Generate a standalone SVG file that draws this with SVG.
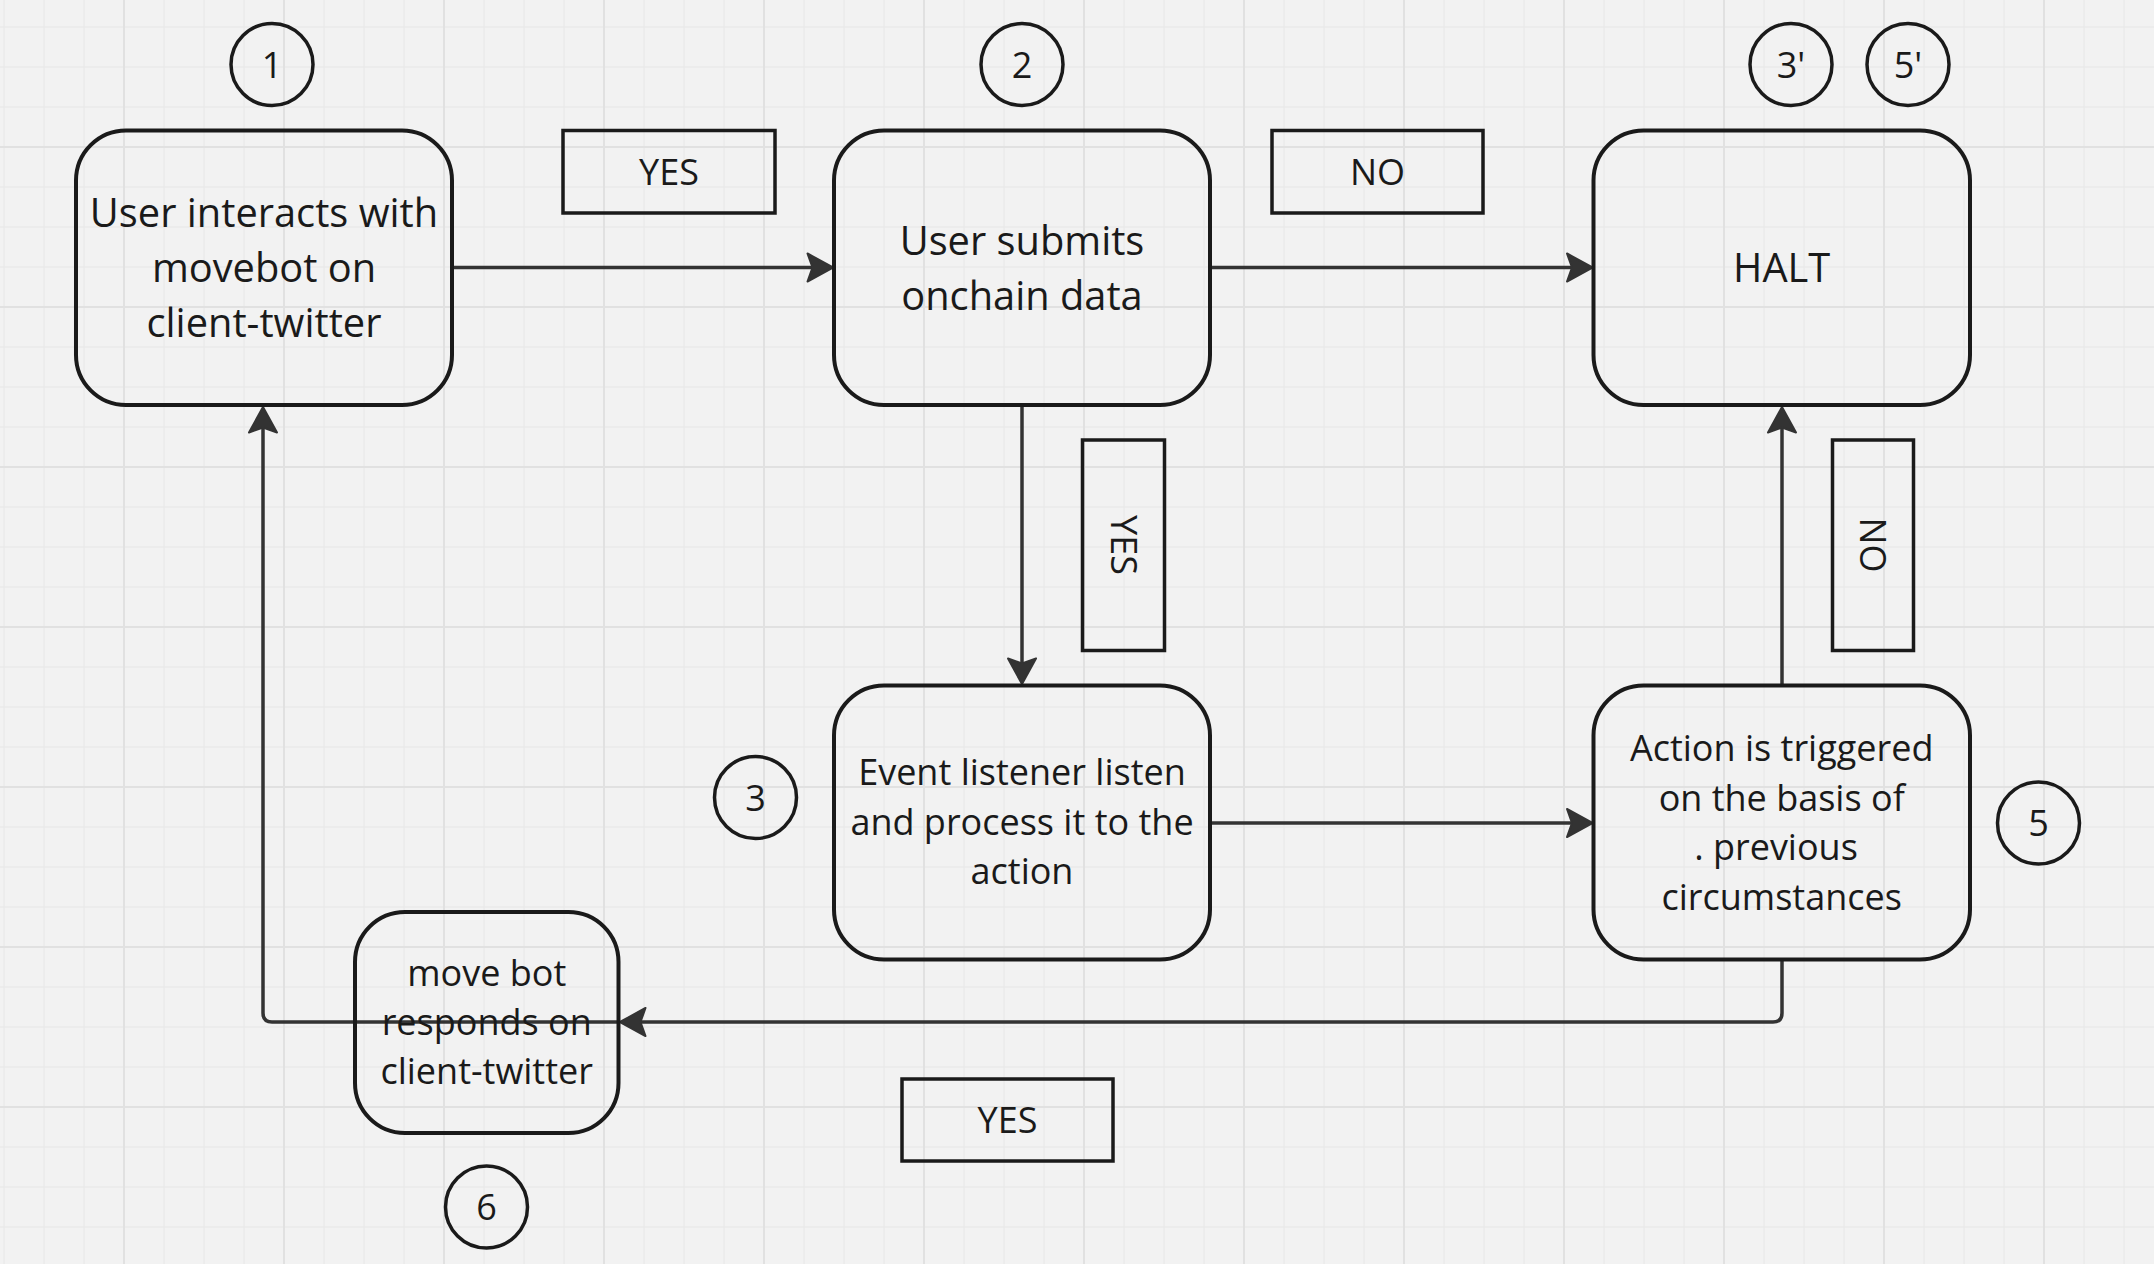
<svg xmlns="http://www.w3.org/2000/svg" width="2154" height="1264" viewBox="0 0 2154 1264">
<defs>
<pattern id="grid" x="-37" y="-14" width="160" height="160" patternUnits="userSpaceOnUse">
<path d="M41 0V160M81 0V160M121 0V160M0 41H160M0 81H160M0 121H160" stroke="#eaeaea" stroke-width="1.3" fill="none"/>
<path d="M1 0V160M0 1H160" stroke="#e1e1e1" stroke-width="2" fill="none"/>
</pattern>
<marker id="arr" viewBox="-16 -16 32 32" markerWidth="32" markerHeight="32" refX="0" refY="0" orient="auto" markerUnits="userSpaceOnUse">
<path d="M12 0L-13.5 -14L-8.5 0L-13.5 14Z" fill="#333" stroke="#333" stroke-width="2" stroke-linejoin="round"/>
</marker>
</defs>
<style>
.node{fill:none;stroke:#1a1a1a;stroke-width:4}
.lbl{fill:none;stroke:#1a1a1a;stroke-width:3.5}
.circ{fill:none;stroke:#1a1a1a;stroke-width:3.5}
.t{font-family:"Open Sans","Noto Sans",sans-serif;fill:#1a1a1a;text-anchor:middle}
.big{font-size:39.8px}
.sm{font-size:36px}
.con{fill:none;stroke:#333;stroke-width:3.5;marker-end:url(#arr)}
</style>
<rect width="2154" height="1264" fill="#f2f2f2"/>
<rect width="2154" height="1264" fill="url(#grid)"/>

<g id="connectors">
<path class="con" d="M452 267.5H821"/>
<path class="con" d="M1210 267.5H1580.5"/>
<path class="con" d="M1022 405V672"/>
<path class="con" d="M1210 823H1580.5"/>
<path class="con" d="M1782 685.5V419"/>
<path class="con" d="M1782 959V1013Q1782 1022 1773 1022H632"/>
<path class="con" d="M618 1022H272Q263 1022 263 1013V419"/>
</g>

<g id="node1">
<rect class="node" x="76" y="130.5" width="376" height="274.5" rx="50"/>
<text class="t big"><tspan x="264" y="226.7">User interacts with</tspan><tspan x="264" y="281.7">movebot on</tspan><tspan x="264" y="336.7">client-twitter</tspan></text>
</g>
<g id="node2">
<rect class="node" x="834" y="130.5" width="376" height="274.5" rx="50"/>
<text class="t big"><tspan x="1022" y="254.5">User submits</tspan><tspan x="1022" y="310">onchain data</tspan></text>
</g>
<g id="halt">
<rect class="node" x="1593.5" y="130.5" width="376.5" height="274.5" rx="50"/>
<text class="t big" x="1781.7" y="281.5">HALT</text>
</g>
<g id="node3">
<rect class="node" x="834" y="685.5" width="376" height="274" rx="50"/>
<text class="t sm"><tspan x="1022" y="785">Event listener listen</tspan><tspan x="1022" y="834.5">and process it to the</tspan><tspan x="1022" y="884">action</tspan></text>
</g>
<g id="node5">
<rect class="node" x="1593.5" y="685.5" width="376.5" height="274" rx="50"/>
<text class="t sm"><tspan x="1781.7" y="761">Action is triggered</tspan><tspan x="1781.7" y="810.5">on the basis of</tspan><tspan x="1776" y="860">. previous</tspan><tspan x="1781.7" y="909.5">circumstances</tspan></text>
</g>
<g id="node6">
<rect class="node" x="355" y="912" width="263.5" height="221" rx="50"/>
<text class="t sm"><tspan x="486.7" y="986">move bot</tspan><tspan x="486.7" y="1035">responds on</tspan><tspan x="486.7" y="1084">client-twitter</tspan></text>
</g>

<g id="label-yes-top">
<rect class="lbl" x="563" y="130.5" width="212" height="82.5"/>
<text class="t sm" x="669" y="184.5">YES</text>
</g>
<g id="label-no-top">
<rect class="lbl" x="1272" y="130.5" width="211" height="82.5"/>
<text class="t sm" x="1377.5" y="184.5">NO</text>
</g>
<g id="label-yes-vert">
<rect class="lbl" x="1082.5" y="440" width="82" height="210.5"/>
<text class="t sm" x="1123.5" y="558" transform="rotate(90 1123.5 545)">YES</text>
</g>
<g id="label-no-vert">
<rect class="lbl" x="1832.5" y="440" width="81" height="210.5"/>
<text class="t sm" x="1873" y="558" transform="rotate(90 1873 545)">NO</text>
</g>
<g id="label-yes-bottom">
<rect class="lbl" x="902" y="1079" width="211" height="82"/>
<text class="t sm" x="1007.5" y="1133">YES</text>
</g>

<g id="c1"><circle class="circ" cx="272" cy="64.5" r="41"/><text class="t sm" x="272" y="77.5">1</text></g>
<g id="c2"><circle class="circ" cx="1022" cy="64.5" r="41"/><text class="t sm" x="1022" y="77.5">2</text></g>
<g id="c3p"><circle class="circ" cx="1791" cy="64.5" r="41"/><text class="t sm" x="1791" y="77.5">3'</text></g>
<g id="c5p"><circle class="circ" cx="1908" cy="64.5" r="41"/><text class="t sm" x="1908" y="77.5">5'</text></g>
<g id="c3"><circle class="circ" cx="755.5" cy="797.5" r="41"/><text class="t sm" x="755.5" y="810.5">3</text></g>
<g id="c5"><circle class="circ" cx="2038.5" cy="823" r="41"/><text class="t sm" x="2038.5" y="836">5</text></g>
<g id="c6"><circle class="circ" cx="486.5" cy="1207" r="41"/><text class="t sm" x="486.5" y="1220">6</text></g>
</svg>
